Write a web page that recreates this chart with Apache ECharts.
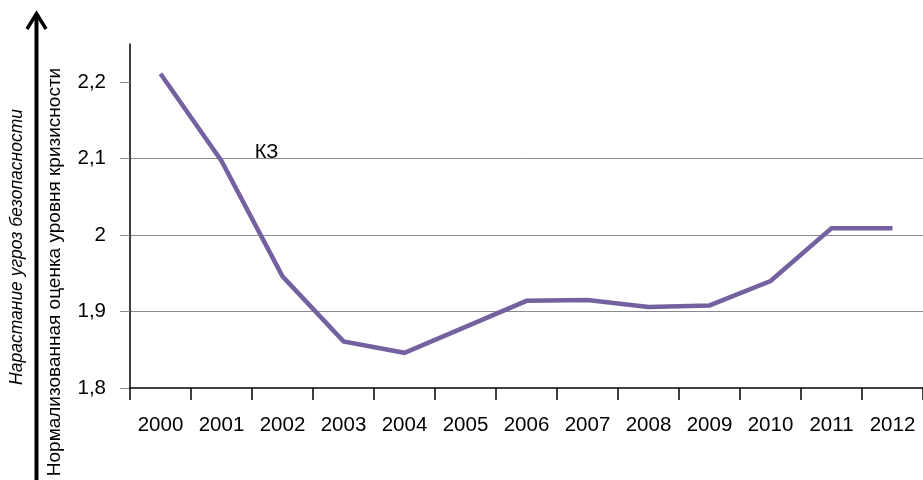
<!DOCTYPE html>
<html><head><meta charset="utf-8">
<script src="https://cdn.jsdelivr.net/npm/echarts@6/dist/echarts.min.js"></script>
<style>html,body{margin:0;padding:0;background:#fff}#c{width:923px;height:480px}</style>
</head><body><div id="c"></div>
<script>
var years = ['2000','2001','2002','2003','2004','2005','2006','2007','2008','2009','2010','2011','2012'];
var kzValues = [2.211, 2.097, 1.946, 1.861, 1.846, 1.880, 1.914, 1.915, 1.906, 1.908, 1.940, 2.009, 2.009];
var yTicks = [1.8, 1.9, 2.0, 2.1, 2.2];
var seriesName = 'КЗ';
var yTitle = 'Нормализованная оценка уровня кризисности';
var arrowTitle = 'Нарастание угроз безопасности';

var chart = echarts.init(document.getElementById('c'));
var font = '"Liberation Sans", Arial, sans-serif';
function fmt(v){ return String(+(+v).toFixed(2)).replace('.', ','); }
chart.setOption({
  animation: false,
  backgroundColor: '#fff',
  grid: { left: 130, top: 44, width: 796, height: 344, containLabel: false },
  xAxis: {
    type: 'category', data: years, boundaryGap: true,
    axisLine: { lineStyle: { color: '#000', width: 1.5 } },
    axisTick: { show: true, length: 12, lineStyle: { color: '#000', width: 1.5 } },
    axisLabel: { interval: 0, margin: 27, color: '#000', fontSize: 20.5, fontFamily: font },
    splitLine: { show: false }
  },
  yAxis: {
    type: 'value', min: 1.8, max: 2.25, interval: 0.1,
    axisLine: { show: true, lineStyle: { color: '#000', width: 1.5 } },
    axisTick: { show: true, inside: false, length: 10, customValues: yTicks, lineStyle: { color: '#888', width: 1 } },
    axisLabel: { margin: 24, color: '#000', fontSize: 20.5, fontFamily: font, customValues: yTicks, formatter: fmt },
    splitLine: { show: true, showMinLine: false, showMaxLine: false, lineStyle: { color: '#8a8a8a', width: 1 } }
  },
  series: [{
    type: 'line', name: seriesName,
    data: kzValues.map(function(v, i){
      return i === 1 ? { value: v, label: { show: true, formatter: seriesName, position: [45, -8], align: 'center', verticalAlign: 'middle', color: '#000', fontSize: 20, fontFamily: font } } : v;
    }),
    symbol: 'circle', symbolSize: 0.01, showSymbol: true,
    lineStyle: { color: '#7461a0', width: 4.5, cap: 'butt', join: 'miter' },
    itemStyle: { color: '#7461a0' },
    labelLayout: { hideOverlap: false }
  }],
  graphic: [
    { type: 'polyline', shape: { points: [[36.5, 480], [36.5, 15]] }, style: { stroke: '#000', lineWidth: 4, fill: null } },
    { type: 'polyline', shape: { points: [[27, 29], [36.5, 13.5], [46, 29]] }, style: { stroke: '#000', lineWidth: 3.5, fill: null } },
    { type: 'text', x: 17, y: 247, rotation: Math.PI / 2, style: { text: arrowTitle, font: 'italic 17.5px ' + font, fill: '#000', align: 'center', verticalAlign: 'middle' } },
    { type: 'text', x: 55, y: 272, rotation: Math.PI / 2, style: { text: yTitle, font: '19px ' + font, fill: '#000', align: 'center', verticalAlign: 'middle' } }
  ]
});
</script></body></html>
